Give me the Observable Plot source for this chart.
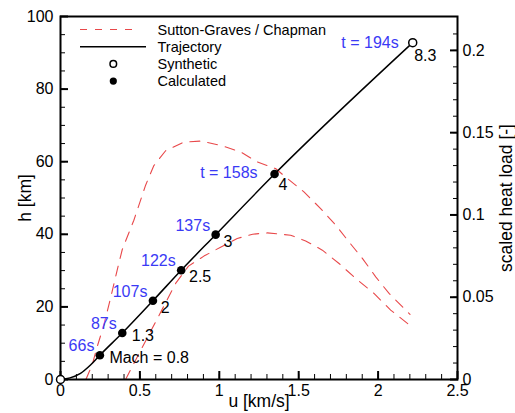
<!DOCTYPE html>
<html>
<head>
<meta charset="utf-8">
<script src="https://cdn.jsdelivr.net/npm/d3@7"></script>
<script src="https://cdn.jsdelivr.net/npm/@observablehq/plot@0.6"></script>
<style>
  html, body { margin: 0; padding: 0; background: white; }
  #chart { position: relative; width: 515px; height: 413px; overflow: hidden; }
  #chart > svg { position: absolute; left: 0; top: 0; }
</style>
</head>
<body>
<div id="chart"></div>
<script>
// Trajectory: velocity u [km/s] vs altitude h [km]
const trajU = [0, 0.06, 0.126, 0.189, 0.248, 0.389, 0.582, 0.760, 0.977, 1.348, 2.218];
const trajH = [0, 0.45, 1.7, 4.0, 6.7, 12.8, 21.7, 30.1, 39.9, 56.6, 92.8];

// Calculated points along the trajectory
const calcU = [0.248, 0.389, 0.582, 0.760, 0.977, 1.348];
const calcH = [6.7, 12.8, 21.7, 30.1, 39.9, 56.6];
const calcTime = ["66s", "87s", "107s", "122s", "137s", "t = 158s"];
const calcMach = ["Mach = 0.8", "1.3", "2", "2.5", "3", "4"];

// Synthetic points (start and end of the trajectory)
const synthU = [0, 2.218];
const synthH = [0, 92.8];
const synthTime = ["", "t = 194s"];
const synthMach = ["", "8.3"];

// Sutton-Graves / Chapman scaled heat load, two curves
const sgUpperU = [0.16, 0.20, 0.231, 0.273, 0.315, 0.357, 0.389, 0.462, 0.536, 0.588, 0.662, 0.777, 0.882, 1.008, 1.134, 1.239, 1.354, 1.429, 1.533, 1.638, 1.733, 1.817, 1.901, 1.985, 2.069, 2.174, 2.201];
const sgUpperQ = [0, 0.009, 0.0199, 0.0331, 0.0493, 0.0665, 0.079, 0.0968, 0.1181, 0.1300, 0.1390, 0.1443, 0.1449, 0.1423, 0.1383, 0.1322, 0.1282, 0.1221, 0.1140, 0.1039, 0.0938, 0.0836, 0.0736, 0.0624, 0.0523, 0.0422, 0.0396];
const sgLowerU = [0.41, 0.488, 0.567, 0.646, 0.725, 0.806, 0.903, 1.008, 1.113, 1.21, 1.302, 1.449, 1.544, 1.649, 1.754, 1.859, 1.974, 2.079, 2.216];
const sgLowerQ = [0, 0.0146, 0.0291, 0.0437, 0.0584, 0.0689, 0.075, 0.0804, 0.0857, 0.0883, 0.0891, 0.0877, 0.0842, 0.0786, 0.0705, 0.0614, 0.0523, 0.0422, 0.0317];

// Axis ticks
const uTicks = [0, 0.5, 1, 1.5, 2, 2.5];
const hTicks = [0, 20, 40, 60, 80, 100];
const qTicks = [0, 0.05, 0.1, 0.15, 0.2];

const legendLabels = ["Sutton-Graves / Chapman", "Trajectory", "Synthetic", "Calculated"];

const RED = "#e8484a";
const BLUE = "#3a3af5";
const FONT = "'Liberation Sans', Arial, Helvetica, sans-serif";

const traj = trajU.map((u, i) => ({u, h: trajH[i]}));
const calc = calcU.map((u, i) => ({u, h: calcH[i], time: calcTime[i], mach: calcMach[i]}));
const synth = synthU.map((u, i) => ({u, h: synthH[i], time: synthTime[i], mach: synthMach[i]}));
const upper = sgUpperU.map((u, i) => ({u, q: sgUpperQ[i]}));
const lower = sgLowerU.map((u, i) => ({u, q: sgLowerQ[i]}));

const W = 515, H = 413;
const margins = {marginLeft: 60, marginRight: 58, marginTop: 16, marginBottom: 34};
const baseStyle = {fontFamily: FONT, fontSize: "16px", background: "transparent", color: "black", overflow: "visible"};
const TICK_FS = 16, NOTE_FS = 16, TITLE_FS = 17.5;

// Heat-load layer with the right-hand axis
const heatPlot = Plot.plot({
  width: W, height: H, ...margins,
  style: baseStyle,
  x: {domain: [0, 2.5], axis: null},
  y: {domain: [0, 0.2206]},
  marks: [
    Plot.line(upper, {x: "u", y: "q", stroke: RED, strokeWidth: 1.1, strokeDasharray: "10,8"}),
    Plot.line(lower, {x: "u", y: "q", stroke: RED, strokeWidth: 1.1, strokeDasharray: "10,8"}),
    Plot.axisY(d3.range(0, 22).map(i => i / 100), {anchor: "right", tickSize: -5, text: null, label: null, strokeWidth: 1}),
    Plot.axisY(qTicks, {anchor: "right", tickSize: -8, tickPadding: 13, strokeWidth: 2, label: null, tickFormat: d => String(d), fontSize: TICK_FS}),
    Plot.text(["scaled heat load [-]"], {frameAnchor: "right", textAnchor: "middle", lineAnchor: "middle", rotate: -90, dx: 49, fontSize: TITLE_FS})
  ]
});

// Blue time labels and black Mach labels, offset from their points
const timeLabel = (data, keep, dx, dy) => Plot.text(data, {
  x: "u", y: "h", text: "time", filter: keep, textAnchor: "end",
  dx, dy, fill: BLUE, fontSize: NOTE_FS
});
const machLabel = (data, keep, dx, dy) => Plot.text(data, {
  x: "u", y: "h", text: "mach", filter: keep, textAnchor: "start",
  dx, dy, fill: "black", fontSize: NOTE_FS
});

const mainPlot = Plot.plot({
  width: W, height: H, ...margins,
  style: baseStyle,
  x: {domain: [0, 2.5]},
  y: {domain: [0, 100]},
  marks: [
    Plot.axisY(d3.range(0, 101, 5), {tickSize: -5, text: null, label: null, strokeWidth: 1}),
    Plot.axisY(hTicks, {tickSize: -8, tickPadding: 15, strokeWidth: 2, label: null, tickFormat: d => String(d), fontSize: TICK_FS}),
    Plot.axisX(d3.range(0, 26).map(i => i / 10), {tickSize: -5, text: null, label: null, strokeWidth: 1}),
    Plot.axisX(uTicks, {tickSize: -8, tickPadding: 13, strokeWidth: 2, label: null, tickFormat: d => String(d), fontSize: TICK_FS}),
    Plot.frame({stroke: "black", strokeWidth: 2}),
    Plot.text(["h [km]"], {frameAnchor: "left", textAnchor: "middle", lineAnchor: "middle", rotate: -90, dx: -35, fontSize: TITLE_FS}),
    Plot.text(["u [km/s]"], {frameAnchor: "bottom", textAnchor: "middle", lineAnchor: "middle", dy: 22, fontSize: TITLE_FS}),
    Plot.line(traj, {x: "u", y: "h", curve: "monotone-x", stroke: "black", strokeWidth: 1.5}),
    Plot.dot(calc, {x: "u", y: "h", r: 4.3, fill: "black", stroke: null}),
    Plot.dot(synth, {x: "u", y: "h", r: 4, fill: "white", stroke: "black", strokeWidth: 1.5}),
    timeLabel(calc, d => !d.time.startsWith("t"), -5.5, -9),
    timeLabel(calc, d => d.time.startsWith("t"), -17, -1),
    timeLabel(synth, d => d.time.startsWith("t"), -14, 0),
    machLabel(synth, d => d.mach !== "", 1.5, 13.5),
    machLabel(calc, d => d.mach === "4", 4, 11),
    machLabel(calc, d => ["2", "2.5", "3"].includes(d.mach), 7.8, 7),
    machLabel(calc, d => ["1.3", "Mach = 0.8"].includes(d.mach), 9.5, 3)
  ]
});

const chart = document.getElementById("chart");
chart.appendChild(heatPlot);
chart.appendChild(mainPlot);

// Legend (top-left inside the frame)
const legend = d3.select(chart).append("svg")
  .attr("width", W).attr("height", H)
  .style("font-family", FONT).style("font-size", "14.5px");
const rowY = i => 29.5 + i * 17.2;
const rows = legend.selectAll("g").data(legendLabels).join("g")
  .attr("transform", (d, i) => `translate(0,${rowY(i)})`);
rows.append("text").attr("x", 157.5).attr("dy", "0.35em").text(d => d);
rows.filter((d, i) => i === 0).append("line")
  .attr("x1", 80).attr("x2", 140).attr("stroke", RED).attr("stroke-width", 1.1).attr("stroke-dasharray", "7,8");
rows.filter((d, i) => i === 1).append("line")
  .attr("x1", 80).attr("x2", 146).attr("stroke", "black").attr("stroke-width", 1.6);
rows.filter((d, i) => i === 2).append("circle")
  .attr("cx", 113.3).attr("r", 3.3).attr("fill", "white").attr("stroke", "black").attr("stroke-width", 1.5);
rows.filter((d, i) => i === 3).append("circle")
  .attr("cx", 113.3).attr("r", 3.6).attr("fill", "black");
</script>
</body>
</html>
